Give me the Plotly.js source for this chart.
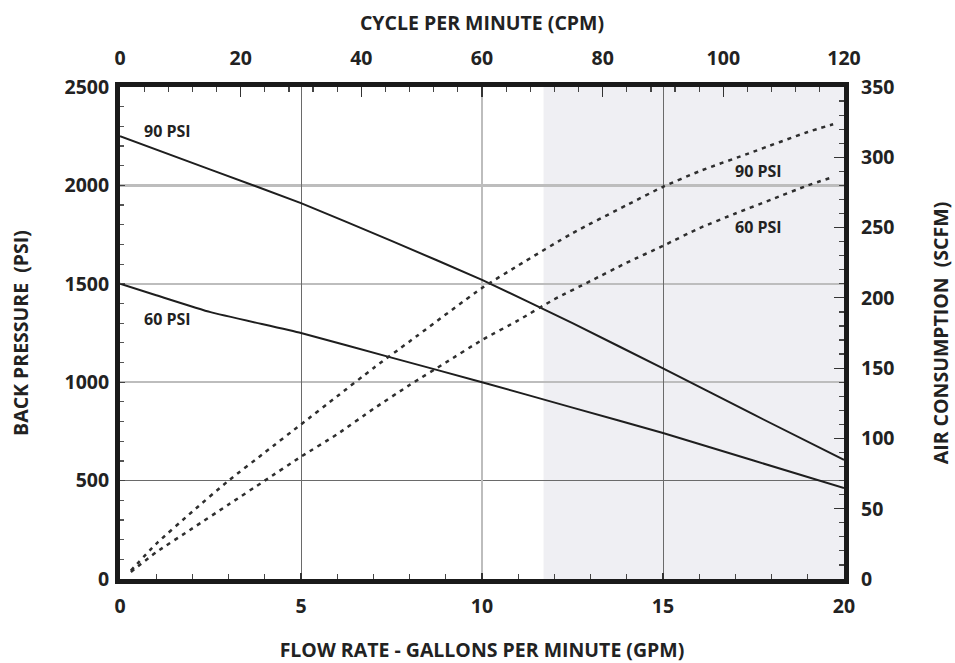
<!DOCTYPE html>
<html>
<head>
<meta charset="utf-8">
<script src="https://cdn.plot.ly/plotly-3.0.1.min.js"></script>
<style>html,body{margin:0;padding:0;background:#fff;}#chart{width:955px;height:663px;}</style>
</head>
<body>
<div id="chart"></div>
<script>
// ---- Data ----
// Back pressure (PSI) vs flow rate (GPM)
const bp90X = [0, 2.5, 5, 7.5, 10, 12.5, 15, 17.5, 20];
const bp90Y = [2250, 2080, 1910, 1718, 1520, 1300, 1070, 836, 605];
const bp60X = [0, 1, 2.5, 5, 7.5, 10, 12.5, 15, 17.5, 20];
const bp60Y = [1500, 1442, 1356, 1250, 1125, 1000, 871, 742, 602, 462];
// Air consumption (SCFM) vs flow rate (GPM)
const air90X = [0.3, 1, 2, 3, 4, 5, 6, 7, 8, 10, 11, 12.5, 14, 15, 16, 17.5, 19, 19.7];
const air90Y = [6, 25, 48, 70, 90, 110, 130, 150, 169, 207, 223, 246, 266, 279, 290, 304, 318, 323.5];
const air60X = [0.3, 1, 2, 3, 4, 5, 6, 7, 8, 9, 10, 11, 12, 13, 14, 15, 16, 17, 18, 19, 19.7];
const air60Y = [5, 19, 36, 53, 70, 87, 103, 121, 138, 154, 170, 184, 199, 212, 225, 237, 249.5, 260, 270, 280, 286];
// Axis ticks
const gpmTicks = [0, 5, 10, 15, 20];
const cpmTicks = [0, 20, 40, 60, 80, 100, 120];
const psiTicks = [0, 500, 1000, 1500, 2000, 2500];
const scfmTicks = [0, 50, 100, 150, 200, 250, 300, 350];
const gridDarkX = [5, 15];
const gridLightX = [10];
const gridDarkY = [500];
const gridLightY = [1000, 1500, 2000];
const shadeGPM = [11.7, 20];
// Curve labels
const labelText = ['90 PSI', '60 PSI', '90 PSI', '60 PSI'];
const labelX = [1.3, 1.3, 17.65, 17.65];
const labelY = [2276, 1321, 2073, 1791];

const FONT = 'Open Sans, Noto Sans, sans-serif';
const INK = '#222';
const tickFont = {family: FONT, size: 19.5, weight: 700, color: INK};
const titleFont = {family: FONT, size: 19.5, weight: 700, color: INK};

const solid = {color: '#1e1e1e', width: 2, shape: 'spline', smoothing: 0.4};
const dotted = {color: '#2e2e2e', width: 2.5, dash: '4px,5px', shape: 'spline', smoothing: 0.6};

const traces = [
  {x: bp90X, y: bp90Y, xaxis: 'x', yaxis: 'y', mode: 'lines', line: solid, name: '90 PSI back pressure'},
  {x: bp60X, y: bp60Y, xaxis: 'x', yaxis: 'y', mode: 'lines', line: solid, name: '60 PSI back pressure'},
  {x: air90X, y: air90Y, xaxis: 'x', yaxis: 'y2', mode: 'lines', line: dotted, name: '90 PSI air'},
  {x: air60X, y: air60Y, xaxis: 'x', yaxis: 'y2', mode: 'lines', line: dotted, name: '60 PSI air'},
  // empty traces so the helper axes get their subplots
  {x: [], y: [], xaxis: 'x2', yaxis: 'y', mode: 'lines', hoverinfo: 'skip'},
  {x: [], y: [], xaxis: 'x3', yaxis: 'y', mode: 'lines', hoverinfo: 'skip'},
  {x: [], y: [], xaxis: 'x4', yaxis: 'y', mode: 'lines', hoverinfo: 'skip'},
  {x: [], y: [], xaxis: 'x', yaxis: 'y3', mode: 'lines', hoverinfo: 'skip'},
  {x: [], y: [], xaxis: 'x', yaxis: 'y4', mode: 'lines', hoverinfo: 'skip'}
];

function gridAxis(base, vals, color, width) {
  return {
    overlaying: base.over, anchor: base.anchor, range: base.range,
    tickmode: 'array', tickvals: vals, showticklabels: false, ticks: '',
    showgrid: true, gridcolor: color, gridwidth: width,
    showline: false, zeroline: false, fixedrange: true
  };
}

const layout = {
  width: 955, height: 663,
  margin: {l: 120, r: 111, t: 87, b: 84, pad: 0},
  paper_bgcolor: '#fff', plot_bgcolor: '#fff',
  showlegend: false,
  xaxis: {
    range: [0, 20], tickmode: 'array', tickvals: gpmTicks,
    ticks: 'inside', ticklen: 6, tickwidth: 1.2, tickcolor: '#333',
    minor: {dtick: 1, tick0: 0, ticks: 'inside', ticklen: 5, tickwidth: 1.2, tickcolor: '#444', showgrid: false},
    showline: true, linewidth: 5, linecolor: '#1a1a1a', mirror: true,
    showgrid: false, zeroline: false, tickfont: tickFont, ticklabelstandoff: 6,
    title: {text: 'FLOW RATE - GALLONS PER MINUTE (GPM)', font: titleFont, standoff: 33}
  },
  xaxis2: {
    overlaying: 'x', side: 'top', anchor: 'y', range: [0, 120],
    tickmode: 'array', tickvals: cpmTicks,
    ticks: 'inside', ticklen: 10, tickwidth: 1.2, tickcolor: '#333',
    minor: {dtick: 4, tick0: 0, ticks: 'inside', ticklen: 5, tickwidth: 1.2, tickcolor: '#444', showgrid: false},
    showline: false, showgrid: false, zeroline: false, tickfont: tickFont, ticklabelstandoff: 17,
    title: {text: 'CYCLE PER MINUTE (CPM)', font: titleFont, standoff: 8}
  },
  xaxis3: gridAxis({over: 'x', anchor: 'y', range: [0, 20]}, gridDarkX, '#6a6a6a', 1),
  xaxis4: gridAxis({over: 'x', anchor: 'y', range: [0, 20]}, gridLightX, '#bdbdbd', 2.5),
  yaxis: {
    range: [0, 2500], tickmode: 'array', tickvals: psiTicks,
    ticks: 'inside', ticklen: 5, tickwidth: 1.2, tickcolor: '#444',
    minor: {dtick: 100, tick0: 0, ticks: 'inside', ticklen: 4, tickwidth: 1.2, tickcolor: '#555', showgrid: false},
    showline: true, linewidth: 5, linecolor: '#1a1a1a', mirror: true,
    showgrid: false, zeroline: false, tickfont: tickFont, ticklabelstandoff: 2,
    title: {text: 'BACK PRESSURE\u00a0\u00a0(PSI)', font: titleFont, standoff: 32}
  },
  yaxis2: {
    overlaying: 'y', side: 'right', anchor: 'x', range: [0, 350],
    tickmode: 'array', tickvals: scfmTicks,
    ticks: 'inside', ticklen: 10, tickwidth: 1.2, tickcolor: '#333',
    minor: {dtick: 10, tick0: 0, ticks: 'inside', ticklen: 5, tickwidth: 1.2, tickcolor: '#444', showgrid: false},
    showline: false, showgrid: false, zeroline: false, tickfont: tickFont, ticklabelstandoff: 16,
    title: {text: 'AIR CONSUMPTION\u00a0\u00a0(SCFM)', font: titleFont, standoff: 40}
  },
  yaxis3: gridAxis({over: 'y', anchor: 'x', range: [0, 2500]}, gridDarkY, '#6a6a6a', 1),
  yaxis4: gridAxis({over: 'y', anchor: 'x', range: [0, 2500]}, gridLightY, '#bdbdbd', 2.5),
  shapes: [{
    type: 'rect', xref: 'x', yref: 'y', layer: 'below',
    x0: shadeGPM[0], x1: shadeGPM[1], y0: 0, y1: 2500,
    fillcolor: '#efeff3', line: {width: 0}
  }],
  annotations: labelText.map((t, i) => ({
    text: t, x: labelX[i], y: labelY[i], xref: 'x', yref: 'y',
    showarrow: false, xanchor: 'center', yanchor: 'middle',
    font: {family: FONT, size: 16, weight: 700, color: INK}
  }))
};

Plotly.newPlot('chart', traces, layout, {displayModeBar: false, staticPlot: true});
</script>
</body>
</html>
